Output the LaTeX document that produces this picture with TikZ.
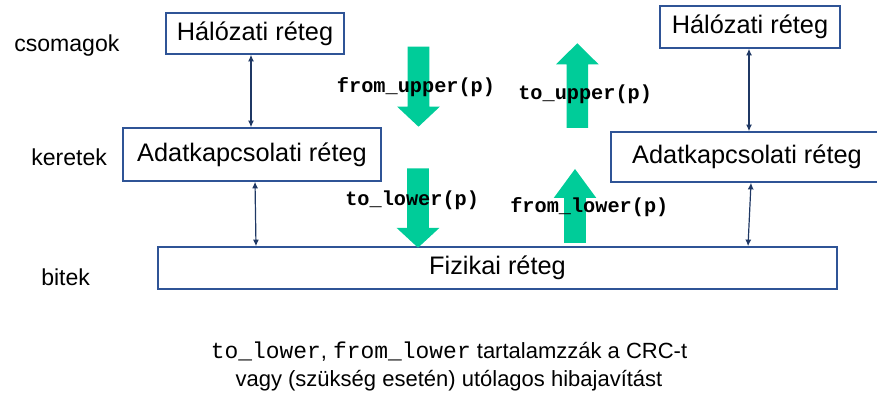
\documentclass[tikz,border=0pt]{standalone}
\usepackage{fontspec}
\setmainfont{Liberation Sans}
\setmonofont{Liberation Mono}
\usetikzlibrary{arrows.meta}
\definecolor{boxblue}{HTML}{2F5496}
\definecolor{linkblue}{HTML}{1F3864}
\definecolor{flowgreen}{HTML}{00CC99}
\begin{document}
\begin{tikzpicture}[
        x=0.75pt, y=-0.75pt,
        layer/.style={draw=boxblue, line width=1.1pt, inner sep=0pt, font=\fontsize{19}{22}\selectfont},
        side/.style={anchor=base west, inner sep=0pt, font=\fontsize{17.3}{20}\selectfont},
        call/.style={anchor=base west, inner sep=0pt, font=\ttfamily\bfseries\fontsize{15.2}{18}\selectfont},
        link/.style={draw=linkblue, line width=0.9pt, {Latex[length=5pt,width=4.5pt]}-{Latex[length=5pt,width=4.5pt]}},
        flow/.style={fill=flowgreen}
    ]
    \useasboundingbox (0,0) rectangle (877,398);
    % layers
    \node[layer, minimum width=133.5pt, minimum height=30.75pt] (netL) at (255,33.5) {Hálózati réteg};
    \node[layer, minimum width=193.5pt, minimum height=39.75pt] (dataL) at (252,154.5) {Adatkapcsolati réteg};
    \node[layer, minimum width=509.25pt, minimum height=31.5pt] (phys) at (497.5,268) {Fizikai réteg};
    \node[layer, minimum width=135pt, minimum height=31.5pt] (netR) at (750,27) {Hálózati réteg};
    \node[layer, minimum width=204pt, minimum height=37.5pt] (dataR) at (747,157) {Adatkapcsolati réteg};
    % units
    \node[side] (pkt) at (14,51.7) {csomagok};
    \node[side] (frm) at (31,165.7) {keretek};
    \node[side] (bit) at (41,285.7) {bitek};
    % peer links
    \draw[link] (netL.south -| 251,0) -- (dataL.north -| 251,0);
    \draw[link] (dataL.south -| 255,0) -- (phys.north -| 256,0);
    \draw[link] (netR.south -| 749,0) -- (dataR.north -| 749,0);
    \draw[link] (dataR.south -| 751,0) -- (phys.north -| 748,0);
    % service calls
    \foreach \x/\ya/\yb/\yh in {418.5/46.7/126.7/106.7, 418/168.3/247.7/228, 577.3/128/43.3/64.3, 575/243/169/198}
        \fill[flow] (\x-10.8,\ya) -- (\x+10.8,\ya) -- (\x+10.8,\yh) -- (\x+21.3,\yh) -- (\x,\yb)
            -- (\x-21.3,\yh) -- (\x-10.8,\yh) -- cycle;
    \node[call] (fu) at (336.7,93) {from\_upper(p)};
    \node[call] (tu) at (518,100) {to\_upper(p)};
    \node[call] (tl) at (345,206) {to\_lower(p)};
    \node[call] (fl) at (510,212.3) {from\_lower(p)};
    % note
    \node[anchor=base, align=center, inner sep=0pt, font=\fontsize{16.5}{21}\selectfont] (note) at (449,387)
        {{\fontsize{17.2}{21}\selectfont\ttfamily to\_lower}, {\fontsize{17.2}{21}\selectfont\ttfamily from\_lower} tartalamzzák a CRC-t\\
         vagy (szükség esetén) utólagos hibajavítást};
\end{tikzpicture}
\end{document}
